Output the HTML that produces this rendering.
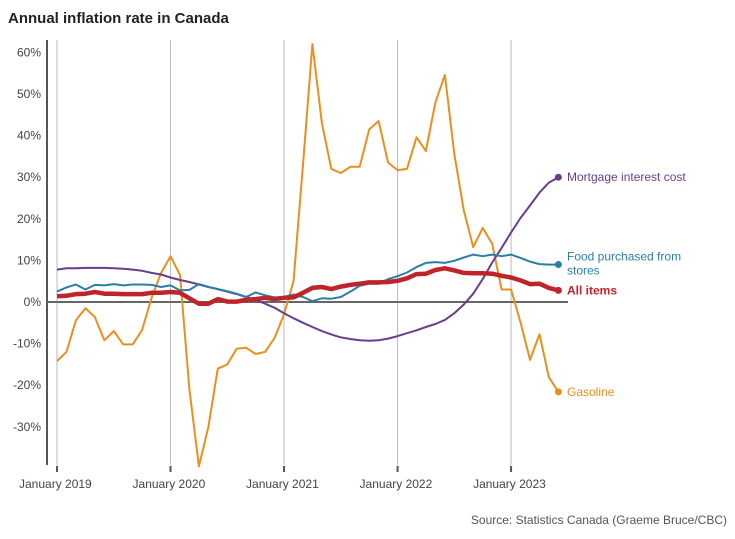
<!DOCTYPE html>
<html><head><meta charset="utf-8"><style>
body{margin:0;background:#fff;font-family:"Liberation Sans",sans-serif}
svg text{font-family:"Liberation Sans",sans-serif}
</style></head><body>
<svg width="735" height="534" id="c">
<text x="8" y="23" font-size="15" font-weight="bold" fill="#222">Annual inflation rate in Canada</text>
<text x="727" y="524" font-size="12" fill="#555" text-anchor="end">Source: Statistics Canada (Graeme Bruce/CBC)</text>
<g id="grid"></g><g id="series"></g><g id="labels"></g>
</svg>
<script>
const yTicks=[-30,-20,-10,0,10,20,30,40,50,60];
const xTickLabels=["January 2019","January 2020","January 2021","January 2022","January 2023"];
const gasoline=[-14.2,-12,-4.4,-1.5,-3.6,-9.2,-7,-10.2,-10.2,-6.7,1,7,11,6.5,-21,-39.5,-30,-16,-15,-11.2,-11,-12.5,-12,-8.6,-3,5,33,62,43,32,31,32.5,32.5,41.5,43.5,33.5,31.7,32,39.6,36.3,48,54.6,35.6,22,13.2,17.8,14,3,3,-4.9,-13.9,-7.8,-18.1,-21.6];
const mortgage=[7.8,8.1,8.1,8.2,8.2,8.2,8.1,8,7.8,7.5,7,6.6,5.9,5.3,4.8,4.2,3.6,3.1,2.5,1.9,1.2,0.5,-0.4,-1.4,-2.7,-3.9,-5,-6,-7,-7.8,-8.5,-8.9,-9.2,-9.3,-9.2,-8.8,-8.2,-7.5,-6.8,-6,-5.3,-4.3,-2.7,-0.6,2,5.5,9.5,13,16.7,20.2,23.2,26.3,28.7,30];
const food=[2.5,3.5,4.2,3,4.1,4,4.3,4,4.2,4.2,4.1,3.6,4,2.8,2.9,4.3,3.6,3.1,2.6,2,1.2,2.3,1.6,1.1,1.2,1.8,1.2,0.2,0.9,0.8,1.2,2.5,3.9,4.4,4.4,5.5,6.2,7.1,8.4,9.4,9.6,9.4,9.9,10.7,11.4,11,11.4,11,11.4,10.6,9.7,9.1,9,9];
const allItems=[1.4,1.5,1.9,2,2.4,2,2,1.9,1.9,1.9,2.2,2.2,2.4,2.2,0.9,-0.4,-0.4,0.7,0.1,0.1,0.5,0.7,1,0.7,1,1.1,2.2,3.4,3.6,3.1,3.7,4.1,4.4,4.7,4.7,4.8,5.1,5.7,6.7,6.8,7.7,8.1,7.6,7,6.9,6.9,6.8,6.3,5.9,5.2,4.3,4.4,3.4,2.8];
const x=i=>57+i*9.46, y=v=>302-v*4.16;
const NS="http://www.w3.org/2000/svg";
function mk(tag,at,parent){const e=document.createElementNS(NS,tag);for(const k in at)e.setAttribute(k,at[k]);document.getElementById(parent).appendChild(e);return e;}
yTicks.forEach(t=>{const e=mk("text",{x:41,y:y(t)+4,"font-size":12,fill:"#444","text-anchor":"end"},"grid");e.textContent=t+"%";

});
xTickLabels.forEach((l,k)=>{const xx=x(k*12);
const g=mk("line",{x1:xx,x2:xx,y1:40,y2:465,stroke:"#bbb","stroke-width":1},"grid");


const tk=mk("line",{x1:xx,x2:xx,y1:466,y2:472,stroke:"#555","stroke-width":2},"grid");


const e=mk("text",{x:xx-38,y:488,"font-size":12,fill:"#444"},"grid");e.textContent=l;

});
const ax=mk("line",{x1:47,x2:47,y1:40,y2:465,stroke:"#555","stroke-width":2},"grid");


const z=mk("line",{x1:47,x2:568,y1:y(0),y2:y(0),stroke:"#666","stroke-width":2},"grid");


const S=[[gasoline,"#e8901f",2,"gasoline-line","Gasoline",[{t:"Gasoline",dy:0}],false],
[mortgage,"#6a3d8f",2,"mortgage-line","Mortgage interest cost",[{t:"Mortgage interest cost",dy:0}],false],
[food,"#2b7fa5",2,"food-line","Food",[{t:"Food purchased from",dy:-8},{t:"stores",dy:6}],false],
[allItems,"#c0242b",4.5,"all-items-line","All items",[{t:"All items",dy:0}],true]];
S.forEach(([d,c,w,n,lab,lines,b])=>{
const p=mk("path",{d:d.map((v,i)=>(i?"L":"M")+x(i).toFixed(1)+","+y(v).toFixed(1)).join(""),fill:"none",stroke:c,"stroke-width":w,"stroke-linejoin":"round"},"series");


const li=d.length-1;
const dot=mk("circle",{cx:x(li),cy:y(d[li]),r:3.5,fill:c},"series");


lines.forEach(o=>{const t=mk("text",{x:567,y:y(d[li])+4+o.dy,"font-size":12,fill:c,"font-weight":b?"bold":"normal"},"labels");t.textContent=o.t;

});
});
</script>
</body></html>
